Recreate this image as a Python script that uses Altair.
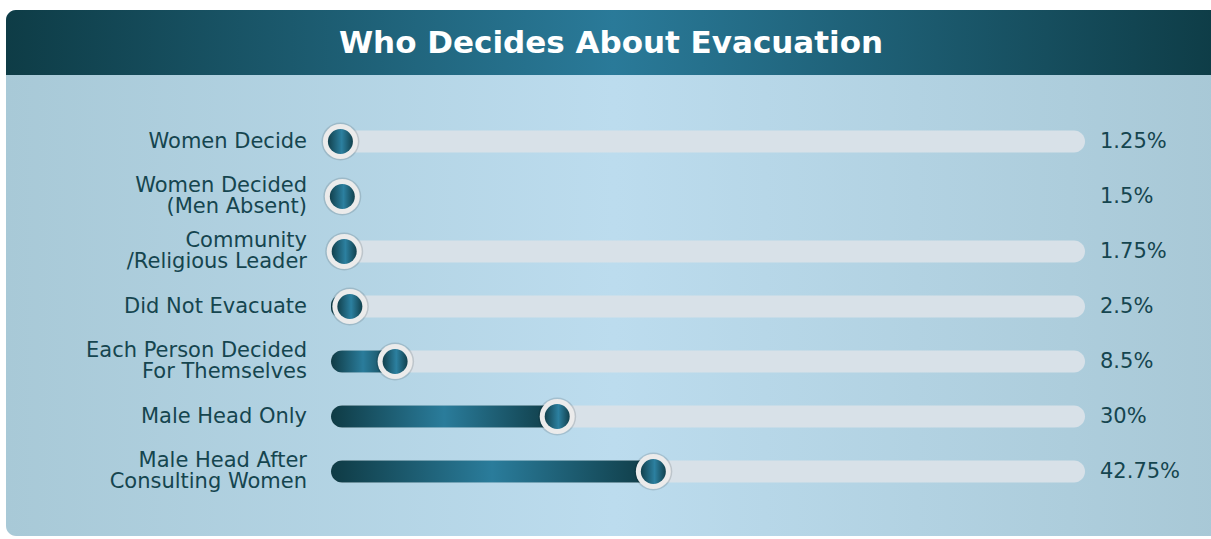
import altair as alt
import pandas as pd

categories = [
    "Women Decide",
    "Women Decided\n(Men Absent)",
    "Community\n/Religious Leader",
    "Did Not Evacuate",
    "Each Person Decided\nFor Themselves",
    "Male Head Only",
    "Male Head After\nConsulting Women",
]
values = [1.25, 1.5, 1.75, 2.5, 8.5, 30, 42.75]
value_labels = ["1.25%", "1.5%", "1.75%", "2.5%", "8.5%", "30%", "42.75%"]
show_track = [True, False, True, True, True, True, True]
title_text = "Who Decides About Evacuation"

df = pd.DataFrame({
    "category": categories,
    "value": values,
    "label": value_labels,
    "track": show_track,
    "start": [0] * len(values),
    "end": [100] * len(values),
})

W, H = 754, 385
PAD_L, PAD_T = 331, 114
FONT = "DejaVu Sans"
TEXT_COLOR = "#15454f"
LINE_H = 21

def grad(stops):
    return {
        "gradient": "linear", "x1": 0, "y1": 0, "x2": 1, "y2": 0,
        "stops": [{"offset": o, "color": c} for o, c in stops],
    }

header_grad = grad([(0, "#0e3c46"), (0.5, "#2a7a99"), (1, "#0e3c46")])
body_grad = grad([(0, "#a8c9d7"), (0.5, "#bcdcee"), (1, "#a8c8d6")])
bar_grad = grad([(0, "#0f3b45"), (0.5, "#2a7c9b"), (1, "#0f3b45")])
knob_grad = grad([(0, "#12414d"), (0.55, "#2c80a0"), (1, "#12414d")])

one = pd.DataFrame({"k": [0]})

y_enc = alt.Y("category:N", sort=categories, axis=None,
              scale=alt.Scale(type="band", paddingInner=0, paddingOuter=0))
x_scale = alt.Scale(domain=[0, 100], nice=False, zero=True)

card = alt.Chart(one).mark_rect(fill=body_grad, cornerRadius=10).encode(
    x=alt.value(6 - PAD_L), x2=alt.value(1211 - PAD_L + 10),
    y=alt.value(10 - PAD_T), y2=alt.value(536 - PAD_T),
)
header = alt.Chart(one).mark_rect(
    fill=header_grad, cornerRadiusTopLeft=10, cornerRadiusTopRight=10
).encode(
    x=alt.value(6 - PAD_L), x2=alt.value(1211 - PAD_L + 10),
    y=alt.value(10 - PAD_T), y2=alt.value(75 - PAD_T),
)
title = alt.Chart(one).mark_text(
    text=title_text, font=FONT, fontSize=31, fontWeight="bold",
    color="white", align="center", baseline="middle",
).encode(x=alt.value(611 - PAD_L), y=alt.value(44 - PAD_T))

base = alt.Chart(df)

track = base.transform_filter("datum.track").mark_bar(
    color="#d8e1e8", size=22, cornerRadius=11
).encode(
    x=alt.X("start:Q", scale=x_scale, axis=None), x2="end:Q", y=y_enc,
)
fill = base.mark_bar(fill=bar_grad, size=22, cornerRadius=11).encode(
    x=alt.X("start:Q", scale=x_scale, axis=None), x2="value:Q", y=y_enc,
)
shadow = base.mark_point(
    shape="circle", filled=True, color="#000000", opacity=0.12, size=38 * 38
).encode(x=alt.X("value:Q", scale=x_scale, axis=None), y=y_enc)
ring = base.mark_point(
    shape="circle", filled=True, color="#ebebeb", opacity=1, size=35 * 35
).encode(x=alt.X("value:Q", scale=x_scale, axis=None), y=y_enc)
knob = base.mark_point(
    shape="circle", filled=True, fill=knob_grad, opacity=1, size=25 * 25
).encode(x=alt.X("value:Q", scale=x_scale, axis=None), y=y_enc)

cat_single = base.transform_filter("indexof(datum.category, '\\n') < 0").mark_text(
    font=FONT, fontSize=21, color=TEXT_COLOR, align="right",
    baseline="middle", lineBreak="\n", lineHeight=LINE_H,
).encode(x=alt.value(307 - PAD_L), y=y_enc, text="category:N")

cat_multi = base.transform_filter("indexof(datum.category, '\\n') >= 0").mark_text(
    font=FONT, fontSize=21, color=TEXT_COLOR, align="right",
    baseline="middle", lineBreak="\n", lineHeight=LINE_H, dy=-LINE_H / 2,
).encode(x=alt.value(307 - PAD_L), y=y_enc, text="category:N")

val_text = base.mark_text(
    font=FONT, fontSize=21, color=TEXT_COLOR, align="left", baseline="middle",
).encode(x=alt.value(1100 - PAD_L), y=y_enc, text="label:N")

chart = alt.layer(
    card, header, title, track, fill, shadow, ring, knob, cat_single, cat_multi, val_text
).properties(
    width=W, height=H,
    autosize=alt.AutoSizeParams(type="none"),
    padding={"left": PAD_L, "top": PAD_T, "right": 1211 - PAD_L - W, "bottom": 539 - PAD_T - H},
    background="white",
).configure_view(stroke=None)

chart.save("out.html", embed_options={"renderer": "svg", "actions": False})
